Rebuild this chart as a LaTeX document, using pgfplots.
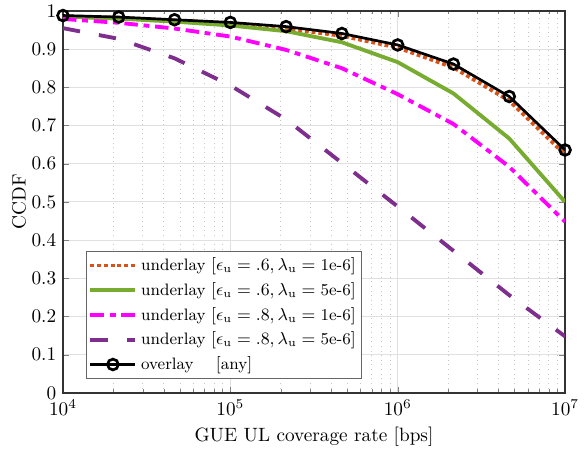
\documentclass[border=0pt]{standalone}
\usepackage{pgfplots}
\pgfplotsset{compat=1.18}
\definecolor{morange}{rgb}{0.85,0.325,0.098}
\definecolor{mgreen}{rgb}{0.466,0.674,0.188}
\definecolor{mpurple}{rgb}{0.494,0.184,0.556}
\definecolor{mmagenta}{rgb}{1,0,1}
\begin{document}
\begin{tikzpicture}
\begin{axis}[
  scale only axis,
  width=260.8pt, height=198.4pt,
  xmode=log,
  xmin=1e4, xmax=1e7,
  ymin=0, ymax=1,
  ytick={0,0.1,0.2,0.3,0.4,0.5,0.6,0.7,0.8,0.9,1},
  yticklabels={0,0.1,0.2,0.3,0.4,0.5,0.6,0.7,0.8,0.9,1},
  xtick={1e4,1e5,1e6,1e7},
  tick align=inside, tick pos=both,
  major tick length=3pt, minor tick length=1.8pt,
  grid=both,
  major grid style={draw=black!12, line width=0.5pt},
  minor grid style={draw=black!22, dotted, line width=0.4pt},
  minor y tick num=0,
  axis line style={black!80, line width=0.6pt},
  xlabel={GUE UL coverage rate [bps]},
  ylabel={CCDF},
  xlabel style={yshift=1pt},
  ylabel style={yshift=-4pt},
  legend style={at={(0.046,0.037)}, anchor=south west, draw=black!60, line width=0.6pt,
    inner sep=1pt, row sep=0.6pt, font=\fontsize{8.6}{11}\selectfont},
  legend cell align=left,
  legend image code/.code={\draw[mark repeat=2,mark phase=2,#1] plot coordinates {(0cm,0cm) (0.41cm,0cm) (0.82cm,0cm)};},
]
\addplot[morange, line width=2pt, dash pattern=on 2pt off 1.5pt] coordinates {
(1e4,0.986) (2.154e4,0.982) (4.642e4,0.975) (1e5,0.967) (2.154e5,0.954) (4.642e5,0.935) (1e6,0.904) (2.154e6,0.852) (4.642e6,0.765) (1e7,0.624)};
\addlegendentry{underlay $[\epsilon_\mathrm{u}=.6, \lambda_\mathrm{u}=\mbox{1e-6}]$}
\addplot[mgreen, line width=2pt] coordinates {
(1e4,0.985) (2.154e4,0.980) (4.642e4,0.972) (1e5,0.962) (2.154e5,0.947) (4.642e5,0.918) (1e6,0.866) (2.154e6,0.784) (4.642e6,0.666) (1e7,0.500)};
\addlegendentry{underlay $[\epsilon_\mathrm{u}=.6, \lambda_\mathrm{u}=\mbox{5e-6}]$}
\addplot[mmagenta, line width=2pt, dash pattern=on 7pt off 3pt on 3pt off 3pt] coordinates {
(1e4,0.979) (2.154e4,0.969) (4.642e4,0.954) (1e5,0.933) (2.154e5,0.898) (4.642e5,0.850) (1e6,0.782) (2.154e6,0.704) (4.642e6,0.592) (1e7,0.448)};
\addlegendentry{underlay $[\epsilon_\mathrm{u}=.8, \lambda_\mathrm{u}=\mbox{1e-6}]$}
\addplot[mpurple, line width=2pt, dash pattern=on 9pt off 10pt] coordinates {
(1e4,0.955) (2.154e4,0.927) (4.642e4,0.876) (1e5,0.805) (2.154e5,0.716) (4.642e5,0.602) (1e6,0.488) (2.154e6,0.372) (4.642e6,0.256) (1e7,0.148)};
\addlegendentry{underlay $[\epsilon_\mathrm{u}=.8, \lambda_\mathrm{u}=\mbox{5e-6}]$}
\addplot[black, line width=1.4pt, mark=o, mark size=2.8pt, mark options={line width=1.4pt}] coordinates {
(1e4,0.988) (2.154e4,0.984) (4.642e4,0.977) (1e5,0.970) (2.154e5,0.959) (4.642e5,0.941) (1e6,0.911) (2.154e6,0.861) (4.642e6,0.776) (1e7,0.636)};
\addlegendentry{overlay \quad$[$any$]$}
\end{axis}
\pgfresetboundingbox
\path[use as bounding box] ([xshift=-32.7pt,yshift=-30.1pt]current axis.south west) rectangle ([xshift=11.4pt,yshift=5.7pt]current axis.north east);
\end{tikzpicture}
\end{document}
